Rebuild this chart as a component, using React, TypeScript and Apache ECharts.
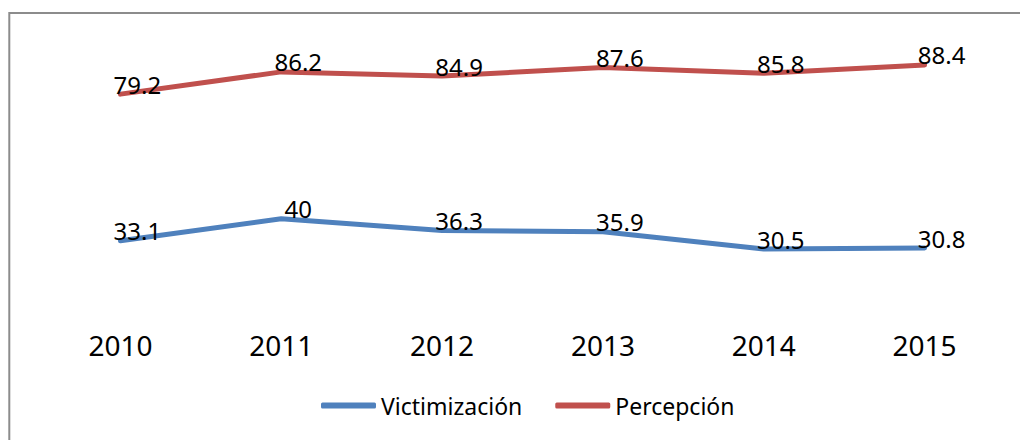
import React, { useEffect, useRef } from "react";
import * as echarts from "echarts";

const years = ["2010", "2011", "2012", "2013", "2014", "2015"];
const victimizacion = [33.1, 40, 36.3, 35.9, 30.5, 30.8];
const percepcion = [79.2, 86.2, 84.9, 87.6, 85.8, 88.4];

const FONT = "'Noto Sans', 'Open Sans', sans-serif";

export default function App() {
  const ref = useRef<HTMLDivElement>(null);
  useEffect(() => {
    if (!ref.current) return;
    const chart = echarts.init(ref.current, undefined, { renderer: "svg" });
    const label = {
      show: true,
      position: "inside",
      offset: [17, -10],
      color: "#000",
      fontSize: 24,
      fontFamily: FONT,
    };
    chart.setOption({
      animation: false,
      backgroundColor: "#fff",
      graphic: [
        {
          type: "rect",
          shape: { x: 9.3, y: 13, width: 1200, height: 600 },
          style: { fill: "none", stroke: "#8c8c8c", lineWidth: 2 },
          silent: true,
        },
      ],
      grid: { left: 40, right: 15, top: 28, bottom: 94 },
      xAxis: {
        type: "category",
        data: years,
        boundaryGap: true,
        axisLine: { show: false },
        axisTick: { show: false },
        axisLabel: { color: "#000", fontSize: 28, fontFamily: FONT, margin: -15 },
      },
      yAxis: {
        type: "value",
        min: 0,
        max: 100,
        show: false,
        splitLine: { show: false },
      },
      legend: {
        bottom: 18,
        left: 316,
        icon: "roundRect",
        itemWidth: 55,
        itemHeight: 6,
        itemGap: 33,
        textStyle: { color: "#000", fontSize: 23, fontFamily: FONT },
        data: ["Victimización", "Percepción"],
      },
      series: [
        {
          name: "Victimización",
          type: "line",
          data: victimizacion,
          symbol: "circle",
          symbolSize: 0.1,
          showSymbol: true,
          color: "#4F81BD",
          lineStyle: { width: 5, color: "#4F81BD", cap: "round", join: "round" },
          label,
        },
        {
          name: "Percepción",
          type: "line",
          data: percepcion,
          symbol: "circle",
          symbolSize: 0.1,
          showSymbol: true,
          color: "#C0504D",
          lineStyle: { width: 5, color: "#C0504D", cap: "round", join: "round" },
          label,
        },
      ],
    });
    return () => chart.dispose();
  }, []);
  return (
    <div
      ref={ref}
      style={{ position: "absolute", left: 0, top: 0, width: 1020, height: 440 }}
    />
  );
}
